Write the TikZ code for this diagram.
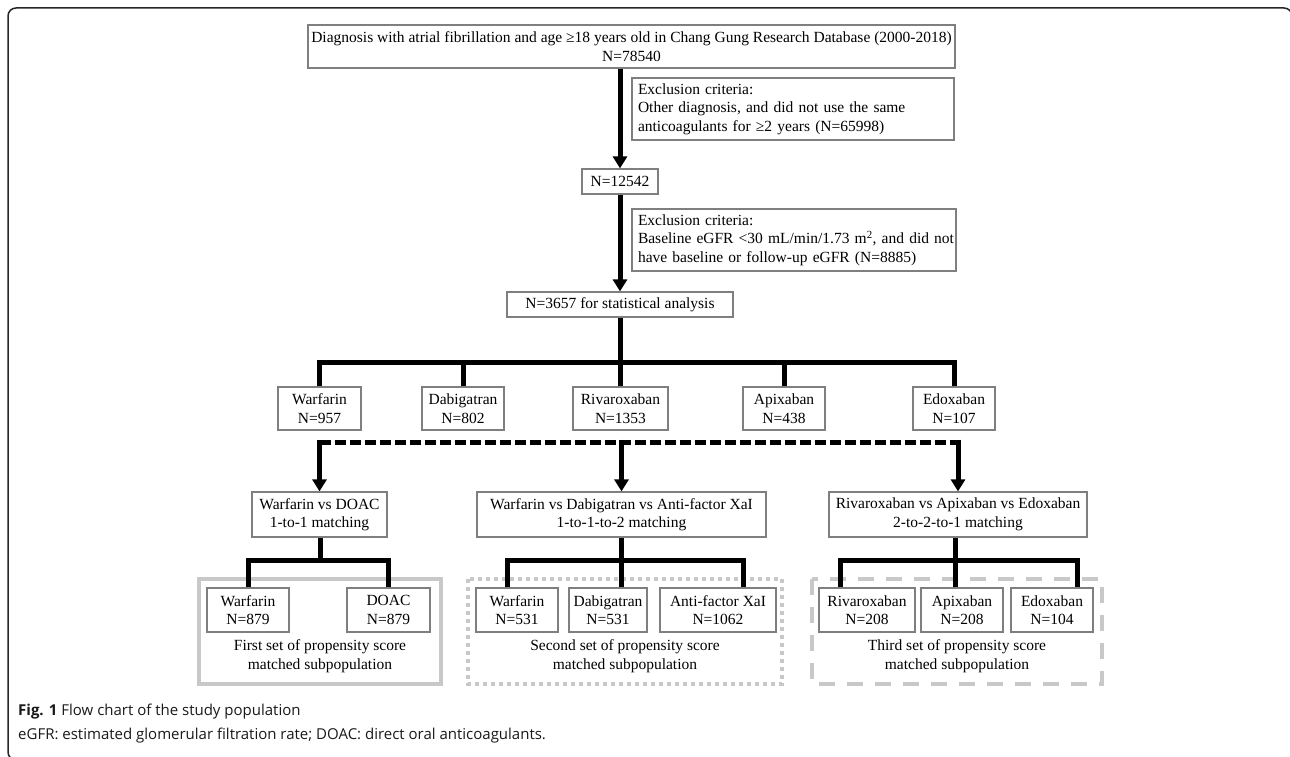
\documentclass[tikz,border=0pt]{standalone}
\usepackage{fontspec}
\setmainfont{Liberation Serif}
\newfontfamily\capfont{Open Sans}
\usetikzlibrary{arrows.meta,calc}
\definecolor{boxgray}{HTML}{7F7F7F}
\definecolor{framegray}{HTML}{C8C8C8}
\newcommand\bodyfont{\fontsize{15.5}{18.5}\selectfont}
\begin{document}
\begin{tikzpicture}[x=1pt,y=-1pt,
  box/.style={draw=boxgray, line width=1.2pt, inner sep=0pt, align=center, font=\bodyfont},
  exbox/.style={draw=boxgray, line width=1.2pt, inner xsep=6pt, inner ysep=0pt, align=left, font=\bodyfont},
  conn/.style={line width=5pt, black},
  arr/.style={conn, -{Triangle[width=14pt,length=12pt]}},
  grouplabel/.style={inner sep=0pt, align=center, font=\bodyfont},
  capstyle/.style={inner sep=0pt, anchor=west, text=black!90, font=\capfont\fontsize{15}{18}\selectfont}]
\useasboundingbox (0,0) rectangle (1290,757);
% outer frame
\draw[line width=1.5pt, black!85, rounded corners=8pt] (1292,40) -- (1292,8) -- (8,8) -- (8,760) -- (40,760);

% main chain
\node[box, minimum width=647pt, minimum height=43pt] (top) at (631.5,46.5)
  {Diagnosis with atrial fibrillation and age ≥18 years old in Chang Gung Research Database (2000-2018)\\N=78540};
\node[exbox, text width=310pt, minimum height=62pt] (ex1) at (793,109)
  {Exclusion criteria:\\\mbox{Other diagnosis, and did not use the same}\\\mbox{anticoagulants for ≥2 years (N=65998)}};
\node[box, minimum width=76pt, minimum height=25pt] (n1) at (620,181.5) {N=12542};
\node[exbox, text width=312pt, minimum height=62pt] (ex2) at (794,240)
  {Exclusion criteria:\\\mbox{Baseline eGFR <30 mL/min/1.73 m\textsuperscript{2}, and did not}\\\mbox{have baseline or follow-up eGFR (N=8885)}};
\node[box, minimum width=226pt, minimum height=25pt] (n2) at (620,304.5) {N=3657 for statistical analysis};

\draw[arr] (n1.north |- top.south) -- (n1.north);
\draw[arr] (n1.south) -- (n2.north);

% drugs
\node[box, minimum width=83pt, minimum height=43pt] (w) at (319.5,408.5) {Warfarin\\N=957};
\node[box, minimum width=82pt, minimum height=43pt] (d) at (463,408.5) {Dabigatran\\N=802};
\node[box, minimum width=95pt, minimum height=43pt] (r) at (620.5,408.5) {Rivaroxaban\\N=1353};
\node[box, minimum width=82pt, minimum height=43pt] (a) at (784,408.5) {Apixaban\\N=438};
\node[box, minimum width=82pt, minimum height=43pt] (e) at (954,408.5) {Edoxaban\\N=107};

\coordinate (j0) at (620,362);
\draw[conn] (n2.south) -- (j0);
\draw[conn] (w.north) |- (j0) -| (e.north);
\draw[conn] (d.north) -- (d.north |- j0);
\draw[conn] (r.north) -- (r.north |- j0);
\draw[conn] (a.north) -- (a.north |- j0);

% matching boxes
\node[box, minimum width=135pt, minimum height=45pt] (m1) at (319.5,514.5) {Warfarin vs DOAC\\1-to-1 matching};
\node[box, minimum width=289pt, minimum height=45pt] (m2) at (621.5,514.5) {Warfarin vs Dabigatran vs Anti-factor XaI\\1-to-1-to-2 matching};
\node[box, minimum width=258pt, minimum height=45pt] (m3) at (958,514.5) {Rivaroxaban vs Apixaban vs Edoxaban\\2-to-2-to-1 matching};

\coordinate (k) at (620,442);
\draw[line width=5pt, dash pattern=on 11pt off 4pt] (m1.north |- k) -- (m3.north |- k);
\draw[arr] ([yshift=2.5pt]m1.north |- k) -- (m1.north);
\draw[arr] ([yshift=2.5pt]m2.north |- k) -- (m2.north);
\draw[arr] ([yshift=2.5pt]m3.north |- k) -- (m3.north);

% group frames
\draw[framegray, line width=4pt] (199,579) rectangle (441,684);
\draw[framegray, line width=4pt, dash pattern=on 4pt off 4pt] (468,579) rectangle (782,684);
\draw[framegray, line width=4pt, dash pattern=on 16pt off 12pt] (812,579) rectangle (1102,684);

% group 1
\node[box, minimum width=82pt, minimum height=44pt] (b1w) at (248,610) {Warfarin\\N=879};
\node[box, minimum width=83pt, minimum height=44pt] (b1d) at (388.5,610) {DOAC\\N=879};
\coordinate (j1) at (320,560);
\draw[conn] (j1 |- m1.south) -- (j1);
\draw[conn] (b1w.north) |- (j1) -| (b1d.north);
\node[grouplabel] (g1) at (320,656) {First set of propensity score\\matched subpopulation};

% group 2
\node[box, minimum width=82pt, minimum height=44pt] (b2w) at (517,610) {Warfarin\\N=531};
\node[box, minimum width=78pt, minimum height=44pt] (b2d) at (608,610) {Dabigatran\\N=531};
\node[box, minimum width=116pt, minimum height=44pt] (b2a) at (718,610) {Anti-factor XaI\\N=1062};
\coordinate (j2) at (621,560);
\draw[conn] (j2 |- m2.south) -- (j2);
\draw[conn] ([xshift=-10pt]b2w.north) |- (j2) -| ([xshift=25pt]b2a.north);
\draw[conn] ([xshift=13pt]b2d.north) -- ([xshift=13pt]b2d.north |- j2);
\node[grouplabel] (g2) at (625,656) {Second set of propensity score\\matched subpopulation};

% group 3
\node[box, minimum width=96pt, minimum height=44pt] (b3r) at (867,610) {Rivaroxaban\\N=208};
\node[box, minimum width=82pt, minimum height=44pt] (b3a) at (962,610) {Apixaban\\N=208};
\node[box, minimum width=82pt, minimum height=44pt] (b3e) at (1052,610) {Edoxaban\\N=104};
\coordinate (j3) at (955,560);
\draw[conn] (j3 |- m3.south) -- (j3);
\draw[conn] ([xshift=-27pt]b3r.north) |- (j3) -| ([xshift=25pt]b3e.north);
\draw[conn] ([xshift=-7pt]b3a.north) -- ([xshift=-7pt]b3a.north |- j3);
\node[grouplabel] (g3) at (957,656) {Third set of propensity score\\matched subpopulation};

% caption
\node[capstyle] (cap1) at (18,712) {\textbf{Fig. 1} Flow chart of the study population};
\node[capstyle] (cap2) at (18,736) {eGFR: estimated glomerular filtration rate; DOAC: direct oral anticoagulants.};
\end{tikzpicture}
\end{document}
